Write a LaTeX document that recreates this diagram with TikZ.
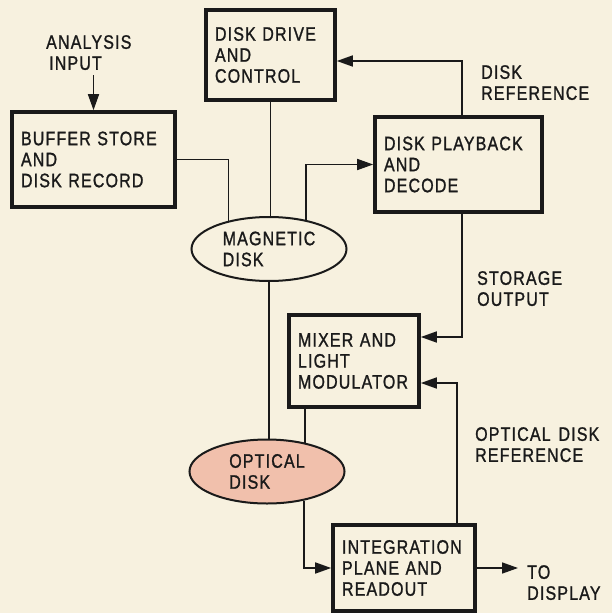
\documentclass[tikz,border=0pt]{standalone}
\usepackage{fontspec}
\setmainfont{Liberation Sans}[FakeStretch=0.82,FakeBold=1.2,LetterSpace=6,WordSpace=1.4]
\definecolor{paper}{HTML}{F7F1DF}
\definecolor{ink}{HTML}{1A1A1A}
\definecolor{optpink}{HTML}{F1C0AC}
\usetikzlibrary{arrows.meta,shapes.geometric}
\tikzset{
  box/.style={draw=ink,line width=3.6bp,fill=paper,inner xsep=9bp,inner ysep=0pt,align=left},
  disk/.style={ellipse,draw=ink,line width=2bp,inner sep=0pt,align=left,minimum width=155bp,minimum height=64bp},
  lbl/.style={anchor=north west,inner sep=0pt,align=left},
  wire/.style={draw=ink,line width=1.6bp},
  arr/.style={wire,-{Triangle[length=16bp,width=11bp]}}
}

\begin{document}
\begin{tikzpicture}[x=1bp,y=-1bp,font=\fontsize{19.5bp}{21bp}\selectfont,text=ink]
  \fill[paper] (0,0) rectangle (612,613);
  % blocks
  \node[box,text width=111bp,minimum height=90bp] (drive) at (270.5,55) {DISK DRIVE\\AND\\CONTROL};
  \node[box,text width=145bp,minimum height=95bp] (buffer) at (93.5,159.5) {BUFFER STORE\\AND\\DISK RECORD};
  \node[box,text width=149bp,minimum height=95bp] (playback) at (458.5,164.5) {DISK PLAYBACK\\AND\\DECODE};
  \node[box,text width=112bp,minimum height=92bp] (mixer) at (354,361) {MIXER AND\\LIGHT\\MODULATOR};
  \node[box,text width=124bp,minimum height=86bp] (integ) at (404,568) {INTEGRATION\\PLANE AND\\READOUT};
  \node[disk] (magdisk) at (269,249) {MAGNETIC\\DISK};
  \node[disk,fill=optpink] (optdisk) at (267,471.5) {OPTICAL\\DISK};
  % labels
  \node[lbl] (inputlbl) at (46,35) {ANALYSIS\\\hspace*{3bp}INPUT};
  \node[lbl] (reflbl) at (481,65) {DISK\\REFERENCE};
  \node[lbl] (storlbl) at (477,271) {STORAGE\\OUTPUT};
  \node[lbl] (optreflbl) at (475,427) {OPTICAL DISK\\REFERENCE};
  \node[lbl] (displbl) at (527,565) {TO\\DISPLAY};
  \coordinate (dispend) at (518,568);
  % connections
  \draw[arr] ([yshift=-5bp]buffer.north |- inputlbl.south) -- (buffer.north);
  \draw[wire] (buffer.east) -| (magdisk.145);
  \draw[wire] (drive.south) -- (drive.south |- magdisk.north);
  \draw[arr] (magdisk.38) |- (playback.west);
  \draw[arr] ([xshift=3.5bp]playback.north) |- ([yshift=-6bp]drive.east);
  \draw[arr] ([xshift=3.5bp]playback.south) |- ([yshift=24bp]mixer.east);
  \draw[arr] ([xshift=53bp]integ.north) |- ([yshift=-22bp]mixer.east);
  \draw[wire] (magdisk.south) -- (magdisk.south |- optdisk.north);
  \draw[wire] (optdisk.37) -- (optdisk.37 |- mixer.south);
  \draw[arr] (optdisk.322) |- (integ.west);
  \draw[arr] (integ.east) -- (dispend);
\end{tikzpicture}
\end{document}
